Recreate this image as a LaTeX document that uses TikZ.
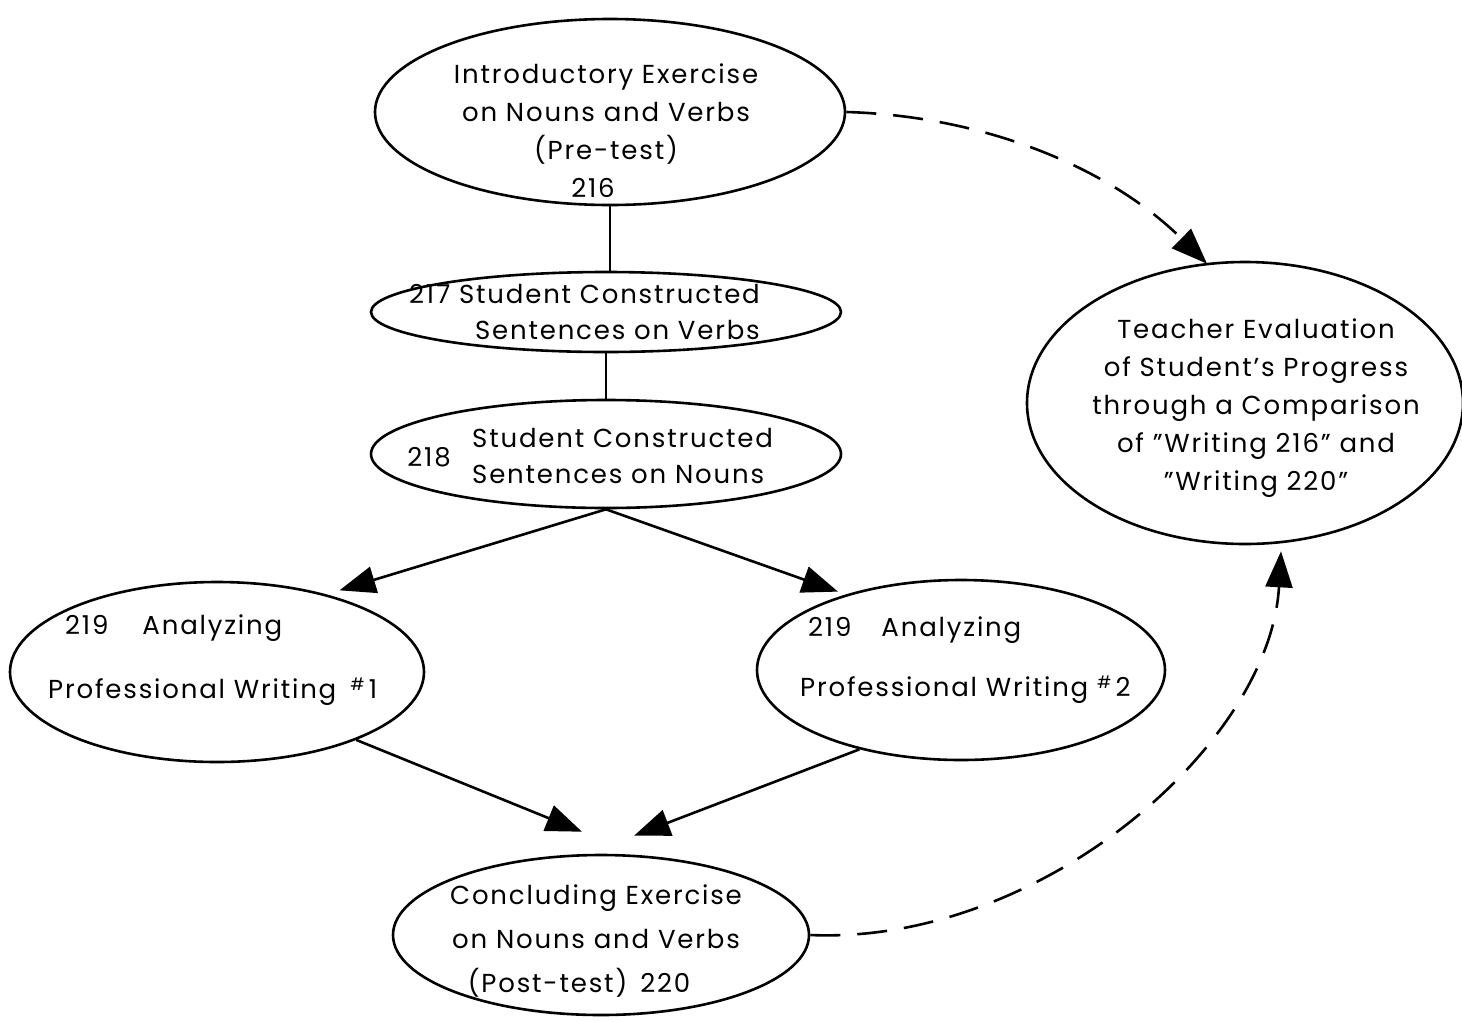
\documentclass[tikz,border=0pt]{standalone}
\usepackage{fontspec}
\setmainfont{Poppins}[LetterSpace=7]
\usetikzlibrary{shapes.geometric,arrows.meta,calc}

\newcommand{\numsign}{\raisebox{8pt}{\fontsize{17}{17}\selectfont\#}\,}

\tikzset{
  oval/.style={draw, ellipse, line width=2.6pt, inner sep=0pt},
  lbl/.style={font=\fontsize{26}{38}\selectfont, inner sep=0pt},
  link/.style={line width=2.6pt},
  arr/.style={line width=2.6pt, -{Triangle[length=36pt,width=27pt]}},
  darr/.style={line width=2.6pt, dash pattern=on 30pt off 17pt, -{Triangle[length=36pt,width=27pt]}}
}

\begin{document}
\begin{tikzpicture}[x=1pt,y=-1pt]
\useasboundingbox (0,0) rectangle (1462,1021);

% outlines
\node[oval, minimum width=470pt, minimum height=186pt] (top) at (610,112) {};
\node[oval, minimum width=470pt, minimum height=80pt]  (s217) at (606,312) {};
\node[oval, minimum width=470pt, minimum height=108pt] (s218) at (606,454) {};
\node[oval, minimum width=414pt, minimum height=180pt] (a1) at (217,672) {};
\node[oval, minimum width=408pt, minimum height=180pt] (a2) at (961,670) {};
\node[oval, minimum width=416pt, minimum height=160pt] (post) at (601,935) {};
\node[oval, minimum width=436pt, minimum height=282pt] (eval) at (1245,403) {};

% texts
\node[lbl, align=center] (ttop) at (606,131)
  {Introductory Exercise\\on Nouns and Verbs\\(Pre-test)\\216\hspace*{26pt}};
\node[lbl, align=right, anchor=east, font=\fontsize{26}{36}\selectfont] (t217) at (760,312)
  {217 Student Constructed\\Sentences on Verbs};
\node[lbl] (n218) at (429,457) {218};
\node[lbl, align=left, anchor=west, font=\fontsize{26}{36}\selectfont] (t218) at (472,456)
  {Student Constructed\\Sentences on Nouns};
\node[lbl, anchor=west] (t1a) at (65,628) {219\hspace{34pt}Analyzing};
\node[lbl, anchor=west] (t1b) at (48,692) {Professional Writing\hspace{14pt}\numsign 1};
\node[lbl, anchor=west] (t2a) at (808,630) {219\hspace{30pt}Analyzing};
\node[lbl, anchor=west] (t2b) at (800,690) {Professional Writing \numsign 2};
\node[lbl, align=center, font=\fontsize{26}{44}\selectfont] (tpost) at (596,941)
  {Concluding Exercise\\on Nouns and Verbs\\(Post-test)\enspace 220\hspace*{34pt}};
\node[lbl, align=center] (teval) at (1256,408)
  {Teacher Evaluation\\of Student's Progress\\through a Comparison\\of "Writing 216" and\\"Writing 220"};

% connectors
\draw[link] (top.south) -- (top.south |- s217.north);
\draw[link] (s217.south) -- (s218.north);
\draw[arr] (s218.south) -- ($(a1.33)+(6,-6)$);
\draw[arr] (s218.south) -- ($(a2.148)+(-4,-4)$);
\draw[arr] (a1.-26) -- ($(post.north)+(-19,-22)$);
\draw[arr] (a2.-142) -- ($(post.north)+(33,-18)$);
\draw[darr] (top.east) .. controls (985,116) and (1110,168) .. ($(eval.north)+(-38,3)$);
\draw[darr] (post.east) .. controls (1040,945) and (1270,745) .. ($(eval.south)+(36,6)$);
\end{tikzpicture}
\end{document}
